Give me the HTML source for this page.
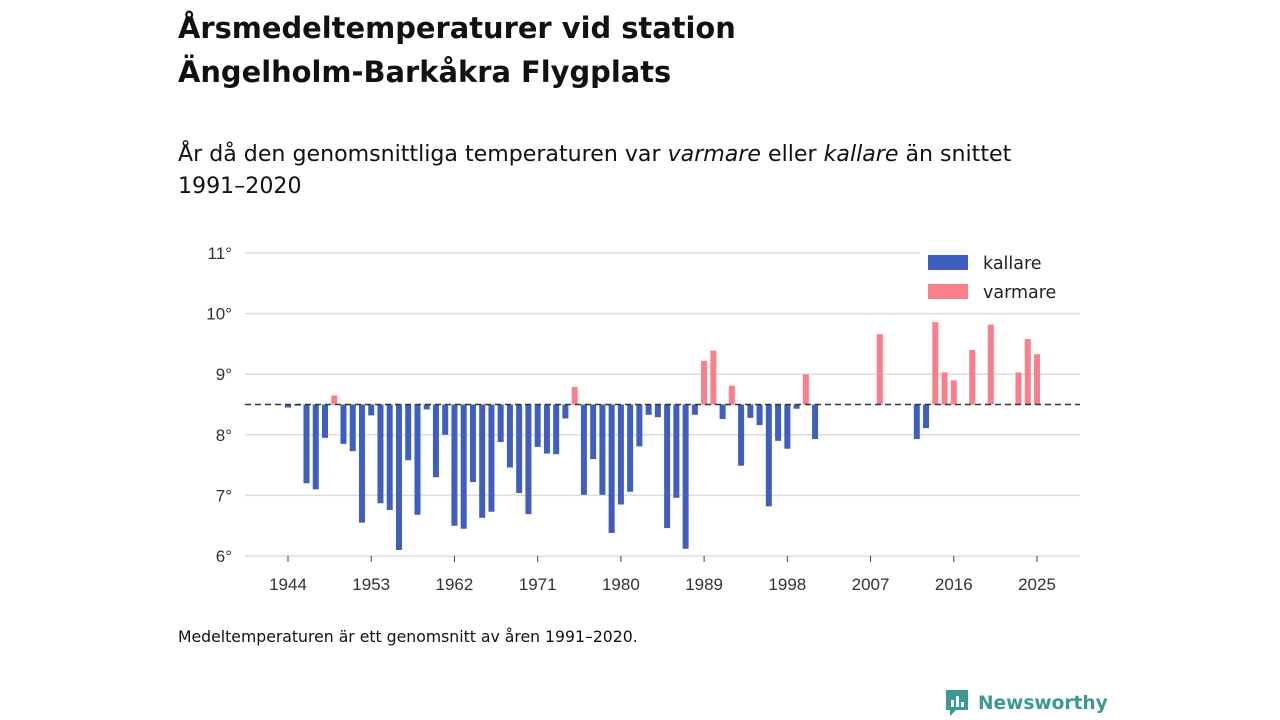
<!DOCTYPE html>
<html><head><meta charset="utf-8">
<style>
body{margin:0;background:#fff;font-family:"DejaVu Sans","Liberation Sans",sans-serif;color:#111;}
#wrap{position:relative;width:1280px;height:720px;overflow:hidden;}
h1{position:absolute;left:178px;top:6px;margin:0;font-size:28.9px;line-height:44px;font-weight:bold;}
.sub{position:absolute;left:178px;top:138px;font-size:22.1px;line-height:32px;white-space:nowrap;}
.foot{position:absolute;left:178px;top:627px;font-size:15.7px;}
.logo{position:absolute;left:944px;top:688px;font-size:18.6px;font-weight:bold;color:#3a9a92;display:flex;align-items:center;gap:8px;}
</style></head><body>
<div id="wrap">
<h1>Årsmedeltemperaturer vid station<br>Ängelholm-Barkåkra Flygplats</h1>
<div class="sub">År då den genomsnittliga temperaturen var <i>varmare</i> eller <i>kallare</i> än snittet<br>1991–2020</div>
<svg id="chart" width="1280" height="720" style="position:absolute;left:0;top:0"></svg>
<div class="foot">Medeltemperaturen är ett genomsnitt av åren 1991–2020.</div>
<div class="logo"><svg width="26" height="30" viewBox="0 0 26 30"><path d="M2 2h22v20H12l-6 6v-6H2z" fill="#3a9a92"/><rect x="7" y="12" width="3" height="7" fill="#fff"/><rect x="12" y="8" width="3" height="11" fill="#fff"/><rect x="17" y="14" width="3" height="5" fill="#fff"/></svg><span>Newsworthy</span></div>
</div>
<script>
const years=[1944,1945,1946,1947,1948,1949,1950,1951,1952,1953,1954,1955,1956,1957,1958,1959,1960,1961,1962,1963,1964,1965,1966,1967,1968,1969,1970,1971,1972,1973,1974,1975,1976,1977,1978,1979,1980,1981,1982,1983,1984,1985,1986,1987,1988,1989,1990,1991,1992,1993,1994,1995,1996,1997,1998,1999,2000,2001,2008,2012,2013,2014,2015,2016,2018,2020,2023,2024,2025];
const temps=[8.45,8.48,7.2,7.1,7.95,8.65,7.85,7.73,6.55,8.32,6.87,6.76,6.1,7.58,6.68,8.42,7.3,8.0,6.5,6.45,7.22,6.63,6.73,7.88,7.46,7.04,6.69,7.8,7.69,7.68,8.27,8.79,7.01,7.6,7.01,6.38,6.85,7.06,7.81,8.33,8.29,6.46,6.96,6.12,8.33,9.22,9.39,8.26,8.81,7.49,8.28,8.16,6.82,7.9,7.77,8.43,9.0,7.93,9.66,7.93,8.11,9.86,9.03,8.9,9.4,9.82,9.03,9.58,9.33];
const mean=8.5;
const yTicks=[6,7,8,9,10,11];
const xTicks=[1944,1953,1962,1971,1980,1989,1998,2007,2016,2025];
const NS="http://www.w3.org/2000/svg";
const svg=document.getElementById('chart');
const X0=245,X1=1080;
const x=yr=>288+(yr-1944)*(1037-288)/81;
const y=v=>556-(v-6)*(556-253)/5;
function el(t,a,txt){const e=document.createElementNS(NS,t);for(const k in a)e.setAttribute(k,a[k]);if(txt!=null)e.textContent=txt;svg.appendChild(e);return e;}
yTicks.forEach(v=>{
  const g=el('line',{x1:X0,x2:X1,y1:y(v),y2:y(v),stroke:'#dcdcdc','stroke-width':1.5});
  
  
  const t=el('text',{x:232,y:y(v)+6,'text-anchor':'end','font-size':17,fill:'#333','font-family':'Liberation Sans, sans-serif'},v+'°');
  
  
});
xTicks.forEach(yr=>{
  const tk=el('line',{x1:x(yr),x2:x(yr),y1:556,y2:562,stroke:'#444','stroke-width':1});
  
  
  const t=el('text',{x:x(yr),y:590,'text-anchor':'middle','font-size':17,fill:'#333','font-family':'Liberation Sans, sans-serif'},yr);
  
  
});
years.forEach((yr,i)=>{
  const v=temps[i];
  const top=Math.min(y(v),y(mean)),h=Math.abs(y(v)-y(mean));
  const r=el('rect',{x:x(yr)-3,y:top,width:6,height:Math.max(h,1),fill:v>=mean?'#fb7f8b':'#3f5fbf'});
  
  
});
const d=el('line',{x1:X0,x2:X1,y1:y(mean),y2:y(mean),stroke:'#333','stroke-width':1.5,'stroke-dasharray':'6,4'});


const lb=el('rect',{x:920,y:248,width:160,height:58,fill:'#fff'});


[['kallare','#3f5fbf',255],['varmare','#fb7f8b',284]].forEach(([n,c,yy])=>{
  const s=el('rect',{x:928,y:yy,width:40,height:15,fill:c});
  
  
  const t=el('text',{x:983,y:yy+14,'font-size':17.5,fill:'#222'},n);
  
  
});
</script>
</body></html>
